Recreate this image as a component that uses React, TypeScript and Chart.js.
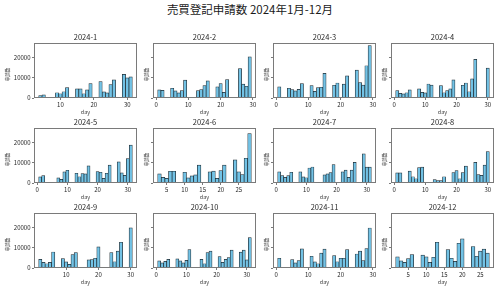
import React, { useEffect, useRef } from "react";
import { Chart, registerables } from "chart.js";

Chart.register(...registerables);

const FONT = '"Noto Sans CJK JP", "Noto Sans", sans-serif';

const mainTitle = "売買登記申請数 2024年1月-12月";
const monthLabels = [
  "2024-1", "2024-2", "2024-3", "2024-4", "2024-5", "2024-6",
  "2024-7", "2024-8", "2024-9", "2024-10", "2024-11", "2024-12",
];
const xAxisLabel = "day";
const yAxisLabel = "申請数";
const yTicks = [0, 10000, 20000];

// Business days per month and the number of applications filed that day
const janDays = [4, 5, 9, 10, 11, 12, 15, 16, 17, 18, 19, 22, 23, 24, 25, 26, 29, 30, 31];
const janValues = [1200, 1500, 2600, 2100, 3100, 5100, 4500, 4500, 2100, 4000, 7100, 8100, 3000, 2500, 6600, 8900, 11600, 9900, 10400];

const febDays = [1, 2, 5, 6, 7, 8, 9, 13, 14, 15, 16, 19, 20, 21, 22, 26, 27, 28, 29];
const febValues = [4000, 3800, 4800, 3500, 2500, 3600, 8800, 3600, 4100, 6100, 8400, 5500, 7100, 2800, 9100, 14500, 6800, 5800, 20300];

const marDays = [1, 4, 5, 6, 7, 8, 11, 12, 13, 14, 15, 18, 19, 21, 22, 25, 26, 27, 28, 29];
const marValues = [5500, 4800, 4100, 3500, 4300, 7100, 6100, 3300, 5100, 5300, 12100, 6300, 7400, 6800, 10900, 13700, 7600, 6400, 15900, 25800];

const aprDays = [1, 2, 3, 4, 5, 8, 9, 10, 11, 12, 15, 16, 17, 18, 19, 22, 23, 24, 25, 26, 30];
const aprValues = [3600, 2300, 2000, 2600, 4000, 4500, 2800, 2500, 6900, 6400, 6100, 2600, 3600, 4500, 8900, 6300, 7400, 3100, 9400, 19000, 14700];

const mayDays = [1, 2, 7, 8, 9, 10, 13, 14, 15, 16, 17, 20, 21, 22, 23, 24, 27, 28, 29, 30, 31];
const mayValues = [3000, 3600, 2500, 1800, 5500, 6300, 4800, 3100, 4600, 4500, 8400, 5600, 5300, 2300, 4800, 8800, 10400, 5000, 3800, 12000, 18700];

const junDays = [3, 4, 5, 6, 7, 10, 11, 12, 13, 14, 17, 18, 19, 20, 21, 24, 25, 26, 27, 28];
const junValues = [4500, 2800, 2300, 5800, 5800, 5300, 2500, 3500, 4000, 8800, 5500, 5900, 2300, 6100, 8800, 11400, 5500, 4100, 12200, 24300];

const julDays = [1, 2, 3, 4, 5, 8, 9, 10, 11, 12, 16, 17, 18, 19, 22, 23, 24, 25, 26, 29, 30, 31];
const julValues = [5500, 3600, 2800, 3600, 5300, 5500, 3000, 2600, 7400, 7900, 4000, 4500, 5100, 9100, 5500, 6400, 2800, 6400, 10200, 14400, 7800, 7800];

const augDays = [1, 2, 5, 6, 7, 8, 9, 13, 14, 15, 16, 19, 20, 21, 22, 23, 26, 27, 28, 29, 30];
const augValues = [5000, 5000, 5900, 3100, 2100, 7600, 7800, 1700, 1200, 1200, 3100, 5100, 6100, 2100, 5100, 8300, 10200, 4100, 3800, 8800, 15500];

const sepDays = [2, 3, 4, 5, 6, 9, 10, 11, 12, 13, 17, 18, 19, 20, 24, 25, 26, 27, 30];
const sepValues = [4300, 2800, 2100, 2800, 7900, 4600, 3000, 1800, 6600, 7600, 4000, 4100, 4800, 10400, 7600, 3100, 8300, 12700, 19800];

const octDays = [1, 2, 3, 4, 7, 8, 9, 10, 11, 15, 16, 17, 18, 21, 22, 23, 24, 25, 28, 29, 30, 31];
const octValues = [3500, 2500, 3300, 4300, 4500, 3500, 2500, 3800, 9100, 4300, 2100, 7600, 8300, 5600, 2800, 4300, 5100, 8800, 7800, 8800, 4000, 15000];

const novDays = [1, 5, 6, 7, 8, 11, 12, 13, 14, 15, 18, 19, 20, 21, 22, 25, 26, 27, 28, 29];
const novValues = [4800, 4100, 2500, 3600, 9400, 5800, 3000, 2100, 7300, 9300, 6100, 3100, 4800, 4800, 9100, 6900, 8300, 3600, 9600, 19700];

const decDays = [2, 3, 4, 5, 6, 9, 10, 11, 12, 13, 16, 17, 18, 19, 20, 23, 24, 25, 26, 27];
const decValues = [5500, 3500, 2800, 4600, 6600, 6400, 5500, 2800, 5300, 12700, 9100, 4800, 3300, 12200, 14400, 10600, 5800, 8300, 9300, 7300];

const monthDays = [janDays, febDays, marDays, aprDays, mayDays, junDays, julDays, augDays, sepDays, octDays, novDays, decDays];
const monthValues = [janValues, febValues, marValues, aprValues, mayValues, junValues, julValues, augValues, sepValues, octValues, novValues, decValues];

// Grid geometry (plot areas)
const PLOT_W = 103;
const PLOT_H = 55;
const COL_LEFT = [34, 153, 273, 391];
const ROW_TOP = [43, 128, 213];
const PAD_L = 34;
const PAD_T = 14;
const PAD_R = 4;
const PAD_B = 22;

const BAR_FILL = "#72c2e5";
const BAR_EDGE = "#1f2a30";
const SPINE = "#7a7a7a";
const TEXT = "#262626";

// Shared y range across all panels, with a 5% headroom
const yMax = Math.max(...monthValues.flat()) * 1.05;

const panelDecor = {
  id: "panelDecor",
  afterDraw(chart: any, _args: any, opts: any) {
    const { ctx, chartArea: a } = chart;
    ctx.save();
    ctx.strokeStyle = SPINE;
    ctx.lineWidth = 1;
    ctx.strokeRect(a.left + 0.5, a.top + 0.5, a.right - a.left - 1, a.bottom - a.top - 1);

    const cx = (a.left + a.right) / 2;
    ctx.fillStyle = TEXT;
    ctx.textAlign = "center";
    ctx.textBaseline = "middle";
    ctx.font = `7.5px ${FONT}`;
    ctx.fillText(opts.title, cx, a.top - 6);

    ctx.fillStyle = "#3a3a3a";
    ctx.font = `5.5px ${FONT}`;
    ctx.fillText(xAxisLabel, cx, a.bottom + 14);

    ctx.translate(a.left - opts.yLabelGap, (a.top + a.bottom) / 2 + 4);
    ctx.rotate(-Math.PI / 2);
    ctx.font = `4.5px ${FONT}`;
    ctx.fillText(yAxisLabel, 0, 0);
    ctx.restore();
  },
};

function Panel({ idx }: { idx: number }) {
  const ref = useRef<HTMLCanvasElement | null>(null);
  const col = idx % 4;
  const row = Math.floor(idx / 4);
  const cw = PAD_L + PLOT_W + PAD_R;
  const ch = PAD_T + PLOT_H + PAD_B;

  useEffect(() => {
    const days = monthDays[idx];
    const vals = monthValues[idx];
    const first = days[0];
    const last = days[days.length - 1];
    const span = last - first + 1;
    const xMin = first - 0.5 - 0.05 * span;
    const xMax = last + 0.5 + 0.05 * span;
    const step = xMax - xMin < 30 ? 5 : 10;
    const xTicks: number[] = [];
    for (let t = Math.ceil(xMin / step) * step; t <= xMax; t += step) xTicks.push(t);
    const firstCol = col === 0;

    const chart = new Chart(ref.current as HTMLCanvasElement, {
      type: "bar",
      data: {
        datasets: [
          {
            data: days.map((d, i) => ({ x: d, y: vals[i] })),
            backgroundColor: BAR_FILL,
            borderColor: BAR_EDGE,
            borderWidth: 0.7,
            borderSkipped: false,
            barPercentage: 1,
            categoryPercentage: 1,
          },
        ],
      },
      options: {
        animation: false,
        responsive: false,
        layout: { padding: { left: 0, top: PAD_T, right: PAD_R, bottom: 0 } },
        plugins: {
          legend: { display: false },
          tooltip: { enabled: false },
          title: { display: false },
          panelDecor: { title: monthLabels[idx], yLabelGap: firstCol ? 27 : 7 },
        } as any,
        scales: {
          x: {
            type: "linear",
            min: xMin,
            max: xMax,
            offset: false,
            grid: { offset: false, drawOnChartArea: false, drawTicks: true, tickLength: 2, color: SPINE },
            border: { display: false },
            afterBuildTicks: (s: any) => {
              s.ticks = xTicks.map((v) => ({ value: v }));
            },
            ticks: {
              autoSkip: false,
              maxRotation: 0,
              padding: 1.5,
              color: TEXT,
              font: { family: FONT, size: 6 },
            },
            afterFit: (s: any) => {
              s.height = PAD_B;
            },
          },
          y: {
            type: "linear",
            min: 0,
            max: yMax,
            grid: { drawOnChartArea: false, drawTicks: true, tickLength: 2, color: SPINE },
            border: { display: false },
            afterBuildTicks: (s: any) => {
              s.ticks = yTicks.map((v) => ({ value: v }));
            },
            ticks: {
              display: firstCol,
              autoSkip: false,
              padding: 1.5,
              color: TEXT,
              font: { family: FONT, size: 6 },
              callback: (v: any) => String(v),
            },
            afterFit: (s: any) => {
              s.width = PAD_L;
            },
          },
        },
      },
      plugins: [panelDecor],
    });
    return () => chart.destroy();
  }, [idx, col]);

  return (
    <canvas
      ref={ref}
      width={cw}
      height={ch}
      style={{
        position: "absolute",
        left: COL_LEFT[col] - PAD_L,
        top: ROW_TOP[row] - PAD_T,
        width: cw,
        height: ch,
      }}
    />
  );
}

export default function App() {
  return (
    <div
      style={{
        position: "fixed",
        left: 0,
        top: 0,
        width: 500,
        height: 288,
        background: "#ffffff",
        overflow: "hidden",
      }}
    >
      <div
        style={{
          position: "absolute",
          left: 0,
          top: 0,
          width: 500,
          height: 18,
          lineHeight: "18px",
          textAlign: "center",
          fontFamily: FONT,
          fontSize: 11.5,
          color: "#1a1a1a",
        }}
      >
        {mainTitle}
      </div>
      {monthLabels.map((_, i) => (
        <Panel key={i} idx={i} />
      ))}
    </div>
  );
}
